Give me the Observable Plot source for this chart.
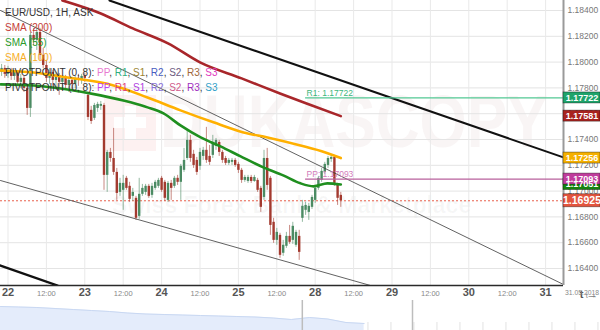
<!DOCTYPE html>
<html>
<head>
<meta charset="utf-8">
<script src="https://cdn.jsdelivr.net/npm/d3@7"></script>
<script src="https://cdn.jsdelivr.net/npm/@observablehq/plot@0.6"></script>
<style>
html,body{margin:0;padding:0;background:#fff;}
#wrap{position:relative;width:600px;height:330px;overflow:hidden;font-family:"Liberation Sans",Arial,sans-serif;}
#wm{position:absolute;left:0;top:0;width:563px;height:285px;pointer-events:none;overflow:hidden;}
#chart,#nav{position:relative;}
#legend{position:absolute;left:5px;top:5px;font-size:10px;line-height:15px;color:#333;white-space:nowrap;}
.flag{position:absolute;left:104px;top:95px;width:52px;height:56px;background:rgba(225,80,80,0.08);}
.flag .h{position:absolute;left:10px;top:22px;width:32px;height:11px;background:#fff;}
.flag .v{position:absolute;left:20.5px;top:11px;width:11px;height:34px;background:#fff;}
.wmt{position:absolute;left:160px;top:85px;font-size:74px;line-height:1;font-weight:bold;color:rgba(170,120,120,0.075);transform:scaleX(0.82);transform-origin:0 0;white-space:nowrap;}
.wms{position:absolute;left:112px;top:192px;font-size:23px;font-weight:bold;color:rgba(120,120,120,0.06);white-space:nowrap;}
</style>
</head>
<body>
<div id="wrap">
  <div id="wm">
    <div class="flag"><div class="h"></div><div class="v"></div></div>
    <div class="wmt">DUKASCOPY</div>
    <div class="wms">Swiss Forex Bank &amp; Marketplace</div>
  </div>
  <div id="chart"></div>
  <div id="nav"></div>
  <div id="legend">
    <div>EUR/USD, 1H, ASK</div>
    <div style="color:#c43c36">SMA (200)</div>
    <div style="color:#2a9a2a">SMA (55)</div>
    <div style="color:#f7ad1f">SMA (100)</div>
    <div>PIVOTPOINT (0, 8): <span style="color:#e87ad0">PP</span>, <span style="color:#2fae7e">R1</span>, <span style="color:#9c8430">S1</span>, <span style="color:#4a5cc0">R2</span>, <span style="color:#6c5a80">S2</span>, <span style="color:#a0683a">R3</span>, <span style="color:#e03cc0">S3</span></div>
    <div>PIVOTPOINT (0, 8): <span style="color:#c040f0">PP</span>, <span style="color:#e0407a">R1</span>, <span style="color:#b040e0">S1</span>, <span style="color:#8a72d8">R2</span>, <span style="color:#d05a8a">S2</span>, <span style="color:#a030c0">R3</span>, <span style="color:#30a0c8">S3</span></div>
  </div>
</div>
<script>
// ---------- DATA ----------
// hourly candles, hour index 0 = 22 May 00:00 (weekend removed)
const hours = d3.range(-2, 105);
const open = [1.17920,1.17951,1.17905,1.17935,1.17889,1.17920,1.17843,1.17874,1.17796,1.17641,
1.18207,1.18168,1.18230,1.18052,1.17974,1.17874,1.17920,1.17858,1.17897,1.17843,
1.17874,1.17819,1.17858,1.17827,1.17874,1.17858,1.17889,1.17742,1.17626,1.17564,
1.17641,1.17657,1.17664,1.17122,1.17300,1.17253,1.17145,1.16990,1.17006,1.17099,
1.17037,1.16959,1.16944,1.16804,1.16975,1.16990,1.17037,1.16967,1.17021,1.17037,
1.17099,1.17068,1.16928,1.17060,1.17037,1.17099,1.17068,1.17161,1.17253,1.17393,
1.17285,1.17238,1.17192,1.17269,1.17316,1.17269,1.17277,1.17347,1.17377,1.17300,
1.17253,1.17215,1.17223,1.17238,1.17207,1.17161,1.17083,1.17075,1.17106,1.17075,
1.17083,1.17021,1.16951,1.17253,1.17099,1.16758,1.16618,1.16657,1.16518,1.16572,
1.16649,1.16618,1.16580,1.16649,1.16789,1.16851,1.16835,1.16874,1.16928,1.17021,
1.17083,1.17145,1.17199,1.17246,1.17261,1.17044,1.16967];
const close = [1.17951,1.17905,1.17935,1.17889,1.17920,1.17843,1.17874,1.17796,1.17641,1.18207,
1.18168,1.18230,1.18052,1.17974,1.17874,1.17920,1.17858,1.17897,1.17843,1.17874,
1.17819,1.17858,1.17827,1.17874,1.17858,1.17889,1.17874,1.17571,1.17540,1.17664,
1.17672,1.17672,1.17122,1.17300,1.17253,1.17145,1.16982,1.17060,1.17060,1.17021,
1.16936,1.16990,1.16789,1.16975,1.17021,1.17037,1.16959,1.17037,1.17068,1.17083,
1.17006,1.16944,1.17060,1.17021,1.17099,1.17068,1.17192,1.17238,1.17393,1.17253,
1.17199,1.17145,1.17300,1.17316,1.17238,1.17223,1.17377,1.17393,1.17300,1.17238,
1.17215,1.17238,1.17238,1.17199,1.17161,1.17083,1.17106,1.17106,1.17075,1.17106,
1.17006,1.16874,1.17253,1.17044,1.16734,1.16618,1.16680,1.16502,1.16580,1.16649,
1.16603,1.16727,1.16680,1.16525,1.16882,1.16889,1.16882,1.16951,1.17021,1.17099,
1.17153,1.17207,1.17253,1.17261,1.17060,1.16944,1.16925];
const high = [1.17982,1.17974,1.17967,1.17951,1.17935,1.17935,1.17905,1.17889,1.17827,1.18230,
1.18261,1.18269,1.18261,1.18106,1.18013,1.17951,1.17935,1.17920,1.17912,1.17889,
1.17897,1.17874,1.17881,1.17889,1.17905,1.17905,1.17912,1.17765,1.17657,1.17680,
1.17688,1.17695,1.17680,1.17316,1.17331,1.17486,1.17176,1.17099,1.17122,1.17114,
1.17068,1.17021,1.16959,1.17099,1.17052,1.17052,1.17052,1.17060,1.17083,1.17099,
1.17114,1.17083,1.17075,1.17083,1.17114,1.17122,1.17207,1.17331,1.17470,1.17432,
1.17316,1.17261,1.17331,1.17339,1.17494,1.17354,1.17432,1.17408,1.17393,1.17316,
1.17269,1.17253,1.17253,1.17253,1.17223,1.17176,1.17122,1.17122,1.17122,1.17122,
1.17099,1.17037,1.17316,1.17331,1.17114,1.16789,1.16711,1.16673,1.16618,1.16680,
1.16734,1.16758,1.16696,1.16696,1.16928,1.16913,1.16905,1.16967,1.17044,1.17114,
1.17176,1.17223,1.17269,1.17277,1.17277,1.17060,1.16990];
const low = [1.17889,1.17874,1.17874,1.17858,1.17858,1.17812,1.17796,1.17765,1.17587,1.17571,
1.18129,1.18090,1.18013,1.17951,1.17843,1.17827,1.17812,1.17781,1.17742,1.17796,
1.17781,1.17765,1.17781,1.17796,1.17812,1.17827,1.17843,1.17548,1.17517,1.17548,
1.17610,1.17626,1.17006,1.16990,1.17223,1.17122,1.16928,1.16959,1.16851,1.17006,
1.16913,1.16920,1.16773,1.16781,1.16959,1.16967,1.16944,1.16944,1.17006,1.17021,
1.16990,1.16920,1.16913,1.16928,1.17021,1.17044,1.16928,1.17145,1.17238,1.17223,
1.17176,1.17122,1.17161,1.17238,1.17215,1.17199,1.17253,1.17316,1.17269,1.17215,
1.17199,1.17199,1.17199,1.17184,1.17137,1.17060,1.17068,1.17060,1.17060,1.17068,
1.16990,1.16835,1.16928,1.17006,1.16657,1.16595,1.16580,1.16479,1.16494,1.16556,
1.16587,1.16587,1.16564,1.16463,1.16758,1.16812,1.16773,1.16858,1.16905,1.17006,
1.17068,1.17130,1.17176,1.17223,1.17037,1.16889,1.16874];

// moving averages (hour index, value)
const sma200T = [17, 29, 39, 50, 60, 73, 85, 95, 104];
const sma200V = [1.18478, 1.18377, 1.18261, 1.18145, 1.17998, 1.17874, 1.17757, 1.17664, 1.17581];
const sma100T = [-2.3, 8, 18.6, 33, 43.6, 53.9, 64.2, 73.6, 81.1, 91.4, 99.2, 104];
const sma100V = [1.17935, 1.17920, 1.17881, 1.17819, 1.17726, 1.17626, 1.17533, 1.17455, 1.17416, 1.17354, 1.17300, 1.17256];
const sma55T = [-2.3, 8, 18.6, 28.9, 38.3, 43.6, 48.6, 53.9, 60.2, 66.4, 72.7, 79.8, 86, 91.4, 95.5, 99.8, 104];
const sma55V = [1.17827, 1.17819, 1.17788, 1.17742, 1.17688, 1.17649, 1.17602, 1.17509, 1.17416, 1.17347, 1.17269, 1.17184, 1.17122, 1.17060, 1.17037, 1.17060, 1.17051];

// trend lines (endpoints: hour index, price)
const upperThickT = [31.7, 173.6], upperThickV = [1.18478, 1.17261];
const lowerThickT = [-2.34, 15.5], lowerThickV = [1.16423, 1.16268];
const upperThinT = [-2.34, 173.6], upperThinV = [1.18400, 1.16276];
const lowerThinT = [-2.34, 113.3], lowerThinV = [1.17082, 1.16268];

// pivot levels and last price
const r1 = 1.17722, pp = 1.17093, lastPrice = 1.16925, pivotStart = 93;

// right-hand badges
const badgeValues = [1.17722, 1.17581, 1.17256, 1.17051, 1.17093, 1.16925];
const badgeColors = ["#1fa36a", "#a8231f", "#f5b000", "#15820f", "#c03c9c", "#e3543e"];

// axis ticks
const yTicks = [1.164, 1.166, 1.168, 1.170, 1.172, 1.174, 1.176, 1.178, 1.180, 1.182, 1.184];
const dayTicks = [0, 24, 48, 72, 96, 120, 144, 168];
const dayLabels = ["22", "23", "24", "25", "28", "29", "30", "31"];
const noonTicks = [12, 36, 60, 84, 108, 132, 156];
const dateLabel = "31.05.2018";

// navigator (price history overview)
const navIdx = d3.range(0, 21);
const navValues = [24, 23.5, 23, 22, 21, 20, 19, 17.5, 16.5, 16, 15.5, 15, 14.5, 14, 13.5, 12.5, 11, 13, 11.5, 8, 7];
const navMarks = [16.6, 22.66];

// ---------- SCALES ----------
const PX = 3.2;                       // px per hour
const X0 = -7.5 / PX, X1 = (563 - 7.5) / PX;
const Y0 = 1.184 - 275 / 12900, Y1 = 1.184 + 10 / 12900;
const pxY = 1 / 12900;

const candles = hours.map((t, i) => ({t, open: open[i], high: high[i], low: low[i], close: close[i]}));
const up = "#4b8b63", down = "#a33a2f";
const col = d => d.close >= d.open ? up : down;
const zip = (T, V) => T.map((t, i) => ({t, v: V[i]}));
const dayMap = new Map(dayTicks.map((d, i) => [d, dayLabels[i]]));
const badges = badgeValues.map((v, i) => ({v, c: badgeColors[i], big: v === lastPrice}));
const font = "'Liberation Sans', Arial, sans-serif";

const chart = Plot.plot({
  width: 600, height: 300,
  marginLeft: 0, marginRight: 37, marginTop: 0, marginBottom: 15,
  x: {domain: [X0, X1], axis: null},
  y: {domain: [Y0, Y1], axis: null},
  style: {fontFamily: font, background: "transparent", overflow: "visible"},
  marks: [
    Plot.gridY(yTicks, {stroke: "#e4e4e4", strokeOpacity: 1}),
    Plot.gridX(d3.range(0, 169, 12), {stroke: "#e9e9e9", strokeOpacity: 1}),
    Plot.ruleY([lastPrice], {x1: X0, x2: X1, stroke: "#e8604c", strokeDasharray: "2,2", strokeWidth: 1}),
    Plot.ruleX(candles, {x: "t", y1: "low", y2: "high", stroke: col, strokeWidth: 1, strokeOpacity: 0.6}),
    Plot.ruleX(candles, {x: "t", y1: "open", y2: "close", stroke: col, strokeWidth: 2.4}),
    Plot.line(zip(upperThinT, upperThinV), {x: "t", y: "v", stroke: "#3a3a3a", strokeWidth: 0.8, clip: true}),
    Plot.line(zip(lowerThinT, lowerThinV), {x: "t", y: "v", stroke: "#3a3a3a", strokeWidth: 0.8, clip: true}),
    Plot.line(zip(upperThickT, upperThickV), {x: "t", y: "v", stroke: "#111", strokeWidth: 2, clip: true}),
    Plot.line(zip(lowerThickT, lowerThickV), {x: "t", y: "v", stroke: "#111", strokeWidth: 2.4, clip: true}),
    Plot.line(zip(sma200T, sma200V), {x: "t", y: "v", stroke: "#a8262a", strokeWidth: 2.6, curve: "monotone-x", clip: true}),
    Plot.line(zip(sma100T, sma100V), {x: "t", y: "v", stroke: "#ffb000", strokeWidth: 2.6, curve: "monotone-x", clip: true}),
    Plot.line(zip(sma55T, sma55V), {x: "t", y: "v", stroke: "#1f8f1f", strokeWidth: 2.6, curve: "monotone-x", clip: true}),
    Plot.ruleY([r1], {x1: pivotStart, x2: X1, stroke: "#52c893", strokeWidth: 1.2}),
    Plot.ruleY([pp], {x1: pivotStart, x2: X1, stroke: "#b8609c", strokeWidth: 1.2}),
    Plot.text([r1], {x: pivotStart + 0.3, y: d => d, text: d => "R1: " + d.toFixed(5), textAnchor: "start", dy: -5, fill: "#3cb67c", fontSize: 8.5}),
    Plot.text([pp], {x: pivotStart + 0.3, y: d => d, text: d => "PP: " + d.toFixed(5), textAnchor: "start", dy: -5, fill: "#d27cba", fontSize: 8.5}),
    Plot.ruleY([Y0], {x1: X0, x2: X1, stroke: "#2a2a2a", strokeWidth: 1.5}),
    Plot.ruleX([X1], {y1: Y0, y2: Y1, stroke: "#9a9a9a", strokeWidth: 2}),
    Plot.axisY(yTicks, {anchor: "right", tickSize: 0, tickPadding: 4, tickFormat: d => d.toFixed(5), fontSize: 8.5, color: "#777"}),
    Plot.axisX(dayTicks, {anchor: "bottom", tickSize: 0, tickPadding: 3, tickFormat: d => dayMap.get(d), fontSize: 11, fontWeight: "bold", color: "#555"}),
    Plot.axisX(noonTicks, {anchor: "bottom", tickSize: 0, tickPadding: 5, tickFormat: () => "12:00", fontSize: 7.5, color: "#888"}),
    Plot.text([dateLabel], {frameAnchor: "bottom-right", textAnchor: "start", dx: 1.5, dy: 9, fontSize: 6.8, fill: "#888"}),
    Plot.rect(badges, {x1: X1, x2: X1 + 37 / PX, y1: d => d.v - (d.big ? 6.5 : 5.5) * pxY, y2: d => d.v + (d.big ? 6.5 : 5.5) * pxY, fill: "c", stroke: "rgba(0,0,0,0.45)", strokeWidth: 0.8}),
    Plot.text(badges, {x: X1 + 18.5 / PX, y: "v", text: d => d.v.toFixed(5), fill: "white", fontWeight: "bold", fontSize: d => d.big ? 10.5 : 9})
  ]
});
document.getElementById("chart").append(chart);

const nav = Plot.plot({
  width: 600, height: 30,
  margin: 0,
  x: {domain: [0, 33], axis: null},
  y: {domain: [0, 30], axis: null},
  style: {fontFamily: font, background: "transparent"},
  marks: [
    Plot.ruleX(d3.range(2.5, 33, 1.265), {y1: 0, y2: 8, stroke: "#e2e2e2"}),
    Plot.areaY(zip(navIdx, navValues), {x: "t", y: "v", fill: "#e4ecfb", fillOpacity: 1}),
    Plot.line(zip(navIdx, navValues), {x: "t", y: "v", stroke: "#c9d8f2", strokeWidth: 1}),
    Plot.ruleX(navMarks, {y1: 0, y2: 30, stroke: "#bdbdbd", strokeWidth: 1.5})
  ]
});
document.getElementById("nav").append(nav);
</script>
</body>
</html>
